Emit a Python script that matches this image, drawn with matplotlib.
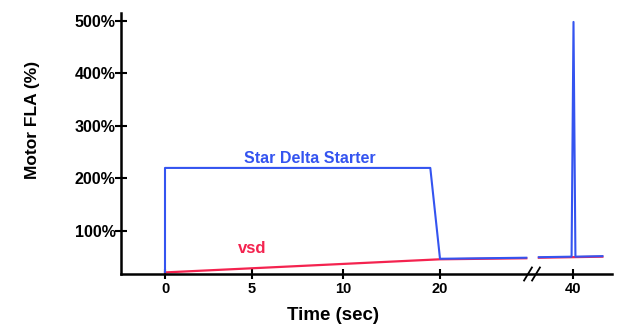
import numpy as np
import matplotlib
matplotlib.use("Agg")
import matplotlib.pyplot as plt

plt.rcParams["font.family"] = ["Liberation Sans", "DejaVu Sans"]
plt.rcParams["font.weight"] = "bold"

# data (time in sec, current in % of motor FLA); NaN marks the axis break
star_delta_t = [0, 0, 19, 20, 29, np.nan, 36.4, 39.8, 40.0, 40.2, 43]
star_delta_y = [22, 220, 220, 47, 49, np.nan, 50, 51, 498, 51, 52]
vsd_t = [0, 20, 29, np.nan, 36.4, 43]
vsd_y = [21, 46, 48, np.nan, 49, 51]

x_ticks = [0, 5, 10, 20, 40]
y_ticks = [100, 200, 300, 400, 500]
y_ticklabels = ["100%", "200%", "300%", "400%", "500%"]

BLUE = "#3454f0"
RED = "#f4234f"

# hand-drawn original: uneven spacing and a break between ~30 and ~36 s
_xp = [-2.5, 0, 5, 10, 20, 29.7, 36, 44]
_fp = [121, 165, 252, 343, 440, 533, 535, 612]


def _fwd(x):
    return np.interp(x, _xp, _fp)


def _inv(p):
    return np.interp(p, _fp, _xp)


fig = plt.figure(figsize=(6.29, 3.33), dpi=100)
ax = fig.add_axes([121 / 629, 59 / 333, 491 / 629, 261 / 333])
ax.set_xscale("function", functions=(_fwd, _inv))

ax.plot(vsd_t, vsd_y, color=RED, linewidth=1.6)
ax.plot(star_delta_t, star_delta_y, color=BLUE, linewidth=1.5)

ax.set_xlim(-2.5, 44)
ax.set_ylim(18, 515)
ax.set_xticks(x_ticks)
ax.set_xticklabels([str(t) for t in x_ticks])
ax.set_yticks(y_ticks)
ax.set_yticklabels(y_ticklabels)

for side in ("top", "right"):
    ax.spines[side].set_visible(False)
for side in ("left", "bottom"):
    ax.spines[side].set_linewidth(1.8)

ax.tick_params(axis="y", direction="inout", length=8, width=1.5, pad=0, labelsize=11.5)
ax.tick_params(axis="x", direction="inout", length=7, width=1.5, pad=2, labelsize=10.5)

ax.set_xlabel("Time (sec)", fontsize=13.5, fontweight="bold")
ax.xaxis.set_label_coords((333 - 121) / 491, -0.16)
ax.xaxis.label.set_va("center")
ax.set_ylabel("Motor FLA (%)", fontsize=12.5, fontweight="bold")
ax.yaxis.set_label_coords(-0.181, 0.59)
ax.yaxis.label.set_va("center")

ax.text(8.2, 223, "Star Delta Starter", color=BLUE, fontsize=11.5,
        fontweight="bold", ha="center", va="bottom")
ax.text(5.0, 66, "vsd", color=RED, fontsize=12, fontweight="bold",
        ha="center", va="center")

# axis break marks
for dx in (-4, 4):
    x0 = (532 + dx - 121) / 491
    ax.plot([x0 - 0.008, x0 + 0.008], [-0.025, 0.025], transform=ax.transAxes,
            color="black", linewidth=1.3, clip_on=False)

fig.savefig("out.png", dpi=100)
